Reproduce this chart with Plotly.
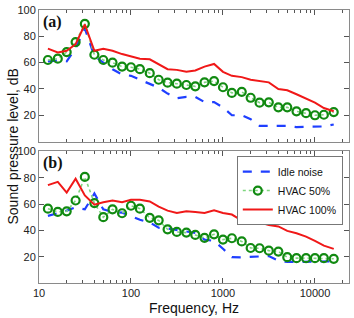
import plotly.graph_objects as go

freq = [12.5, 16, 20, 25, 31.5, 40, 50, 63, 80, 100, 125, 160, 200, 250, 315, 400,
        500, 630, 800, 1000, 1250, 1600, 2000, 2500, 3150, 4000, 5000, 6300, 8000,
        10000, 12500, 16000]

# Panel (a)
idle_a = [61, 61.5, 61, 71, 86, 65, 60, 55, 51, 50, 47, 44, 41, 36.5, 33, 34, 34,
          30, 30, 26, 20, 20, 17, 12, 12, 12.5, 12, 11, 11, 11, 11.5, 13]
hvac50_a = [62, 63, 68, 75.6, 89.5, 66, 62, 60, 57, 56.5, 55, 52, 47, 44.8, 44, 43,
            42, 45, 46, 41.3, 37, 37.8, 33.3, 29.6, 29.8, 26, 26, 23, 21.6, 20, 20.4, 22.4]
hvac100_a = [70.6, 67.7, 69, 74, 89, 69, 70.5, 69, 66.5, 65, 63, 62.5, 59, 55, 54.5,
             53, 54, 57, 59, 53, 50, 49, 47, 46, 45, 40, 39, 36, 33, 29.6, 25.5, 23]

# Panel (b)
idle_b = [51, 53, 55, 57.5, 56, 68, 56, 54, 53.5, 51, 48, 46, 42, 41.5, 40.5, 39.5,
          38, 33, 32, 26, 19.6, 19.5, 20, 20.5, 20.5, 17, 16, 16, 16, 16, 16, 16.5]
hvac50_b = [56.5, 54, 54.5, 62.7, 80.6, 60.7, 50, 56, 53, 58.7, 56.5, 49.5, 47.6, 40.8,
            38.8, 38.3, 36.5, 34.3, 37, 33, 34, 31.6, 26.6, 26.4, 24.6, 23.9, 19.6,
            18.9, 18.9, 18.9, 18.9, 18.4]
hvac100_b = [74.4, 76.9, 68.7, 79.3, 66.5, 59.5, 61.4, 62.7, 61.4, 63.2, 63.2, 62, 58,
             55, 53.2, 54.5, 54, 53.2, 55.2, 53.2, 52, 47.5, 48, 45.8, 44, 43, 39.6,
             37.8, 35.3, 32, 28.4, 25.9]

yticks = [20, 40, 60, 80, 100]
xticks = [10, 100, 1000, 10000]
xticklabels = ["10", "100", "1000", "10000"]
minor_x = [m * 10 ** e for e in range(1, 5) for m in range(2, 10) if m * 10 ** e < 24000]

BLUE = "#1f3fff"
GREEN = "#118a11"
RED = "#f01818"
GREEN_LINE = "#7fd67f"

fig = go.Figure()

def add_panel(idle, h50, h100, xa, ya, show):
    fig.add_trace(go.Scatter(x=freq, y=idle, mode="lines", name="Idle noise",
                             line=dict(color=BLUE, width=2.2, dash="dash"),
                             xaxis=xa, yaxis=ya, showlegend=show))
    fig.add_trace(go.Scatter(x=freq, y=h50, mode="lines+markers", name="HVAC 50%",
                             line=dict(color=GREEN_LINE, width=1.6, dash="dot"),
                             marker=dict(symbol="circle-open", size=8, color=GREEN,
                                         line=dict(width=2.2, color=GREEN)),
                             xaxis=xa, yaxis=ya, showlegend=show))
    fig.add_trace(go.Scatter(x=freq, y=h100, mode="lines", name="HVAC 100%",
                             line=dict(color=RED, width=2),
                             xaxis=xa, yaxis=ya, showlegend=show))

add_panel(idle_a, hvac50_a, hvac100_a, "x2", "y2", False)
add_panel(idle_b, hvac50_b, hvac100_b, "x", "y", True)

axis_line = "#8a8a8a"
tickfont = dict(family="Liberation Sans, Arial, sans-serif", size=11, color="#222")

xcommon = dict(type="log", range=[1, 4.37], tickvals=xticks, ticktext=xticklabels,
               ticks="inside", ticklen=5, tickcolor="#555", showline=True,
               linecolor=axis_line, linewidth=1, mirror="ticks", showgrid=False,
               zeroline=False, tickfont=tickfont,
               minor=dict(tickmode="array", tickvals=minor_x, ticks="inside",
                          ticklen=3, tickcolor="#555", showgrid=False))
ycommon = dict(range=[0, 100], tickvals=yticks, ticks="inside", ticklen=5,
               tickcolor="#555", showline=True, linecolor=axis_line, linewidth=1,
               mirror="ticks", showgrid=False, zeroline=False, tickfont=tickfont)

fig.update_layout(
    width=354, height=318,
    margin=dict(l=39, r=4, t=5, b=35),
    paper_bgcolor="white", plot_bgcolor="white",
    xaxis=dict(**xcommon, anchor="y",
               title=dict(text="Frequency, Hz", standoff=4,
                          font=dict(family="Liberation Sans, Arial, sans-serif", size=14, color="#111"))),
    yaxis=dict(**ycommon, domain=[0, 0.482], anchor="x"),
    xaxis2=dict(**xcommon, anchor="y2", matches="x", showticklabels=False),
    yaxis2=dict(**ycommon, domain=[0.518, 1.0], anchor="x2"),
    legend=dict(x=0.98, y=0.465, xanchor="right", yanchor="top",
                bgcolor="white", bordercolor="#777", borderwidth=1,
                font=dict(family="Liberation Sans, Arial, sans-serif", size=10.5, color="#111"),
                tracegroupgap=0, itemwidth=30),
    showlegend=True,
)

fig.add_annotation(text="Sound pressure level, dB", xref="paper", yref="paper",
                   x=-0.087, y=0.5, xanchor="center", yanchor="middle", textangle=-90,
                   showarrow=False,
                   font=dict(family="Liberation Sans, Arial, sans-serif", size=14, color="#111"))
fig.add_annotation(text="<b>(a)</b>", xref="paper", yref="paper", x=0.005, y=0.998,
                   xanchor="left", yanchor="top", showarrow=False,
                   font=dict(family="Liberation Serif, Times New Roman, serif", size=16, color="#111"))
fig.add_annotation(text="<b>(b)</b>", xref="paper", yref="paper", x=0.005, y=0.480,
                   xanchor="left", yanchor="top", showarrow=False,
                   font=dict(family="Liberation Serif, Times New Roman, serif", size=16, color="#111"))

fig.write_html("out.html", config={"displayModeBar": False},
               post_script="document.body.style.margin='0';")
